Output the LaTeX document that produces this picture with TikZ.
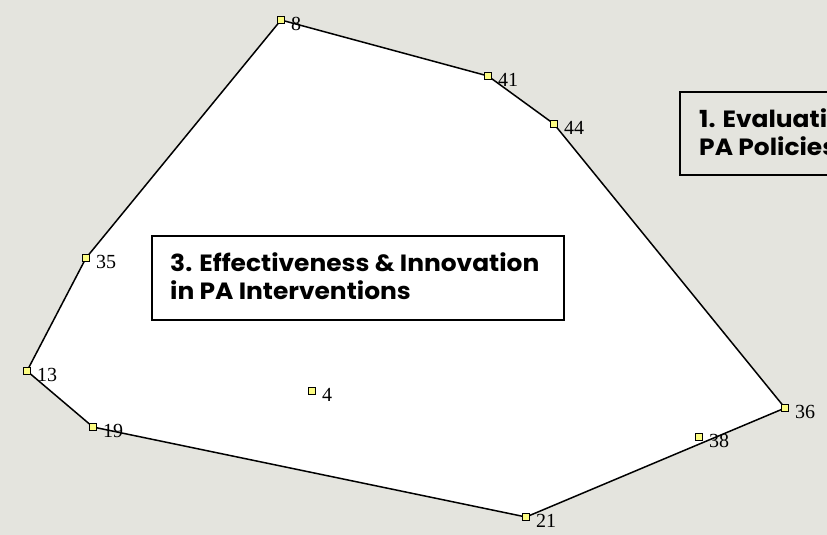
\documentclass[tikz,border=0pt]{standalone}
\usepackage{fontspec}
\setmainfont{Liberation Serif}
\newfontfamily\boxfont{Poppins}[FakeStretch=1.06]
\definecolor{bg}{RGB}{228,228,222}
\definecolor{ptyellow}{RGB}{252,252,130}
\begin{document}
\begin{tikzpicture}[x=1pt,y=-1pt,
  ptbox/.style={draw=black, line width=1.1pt, fill=ptyellow, rectangle, minimum size=7.5pt, inner sep=0pt},
  num/.style={anchor=west, inner sep=0pt, font=\fontsize{20}{20}\selectfont},
  hull/.style={draw=black, line width=1.5pt, fill=white, line join=round},
  clusterbox/.style={draw=black, line width=1.8pt, rectangle, anchor=north west, inner sep=0pt},
  clustertext/.style={anchor=north west, align=left, inner sep=0pt,
    font=\boxfont\bfseries\fontsize{23.5}{28}\selectfont}
]
\useasboundingbox (0,0) rectangle (827,535);
\fill[bg] (0,0) rectangle (827,535);
\begin{scope}
\clip (0,0) rectangle (827,535);
% point positions
\coordinate (c8) at (281,20);
\coordinate (c41) at (488,76);
\coordinate (c44) at (554,124);
\coordinate (c36) at (785,408);
\coordinate (c38) at (699,437);
\coordinate (c21) at (526,517);
\coordinate (c19) at (93,427);
\coordinate (c13) at (27,371);
\coordinate (c35) at (86,258);
\coordinate (c4) at (312,391);
% cluster hull
\draw[hull] (c8) -- (c41) -- (c44) -- (c36) -- (c21) -- (c19) -- (c13) -- (c35) -- cycle;
% points
\foreach \n in {8,41,44,36,38,21,19,13,35,4}{
  \node[ptbox] (p\n) at (c\n) {};
  \node[num] (l\n) at ([shift={(10,4)}]p\n.center) {\n};
}
% cluster labels
\node[clusterbox, minimum width=412pt, minimum height=84pt] (box3) at (151,235) {};
\node[clustertext] (t3) at ([shift={(19,17)}]box3.north west) {3. Effectiveness \& Innovation\\in PA Interventions};
\node[clusterbox, minimum width=300pt, minimum height=83pt] (box1) at (679,91) {};
\node[clustertext] (t1) at ([shift={(20,17)}]box1.north west) {1. Evaluati\\PA Policies};
\end{scope}
\end{tikzpicture}
\end{document}
